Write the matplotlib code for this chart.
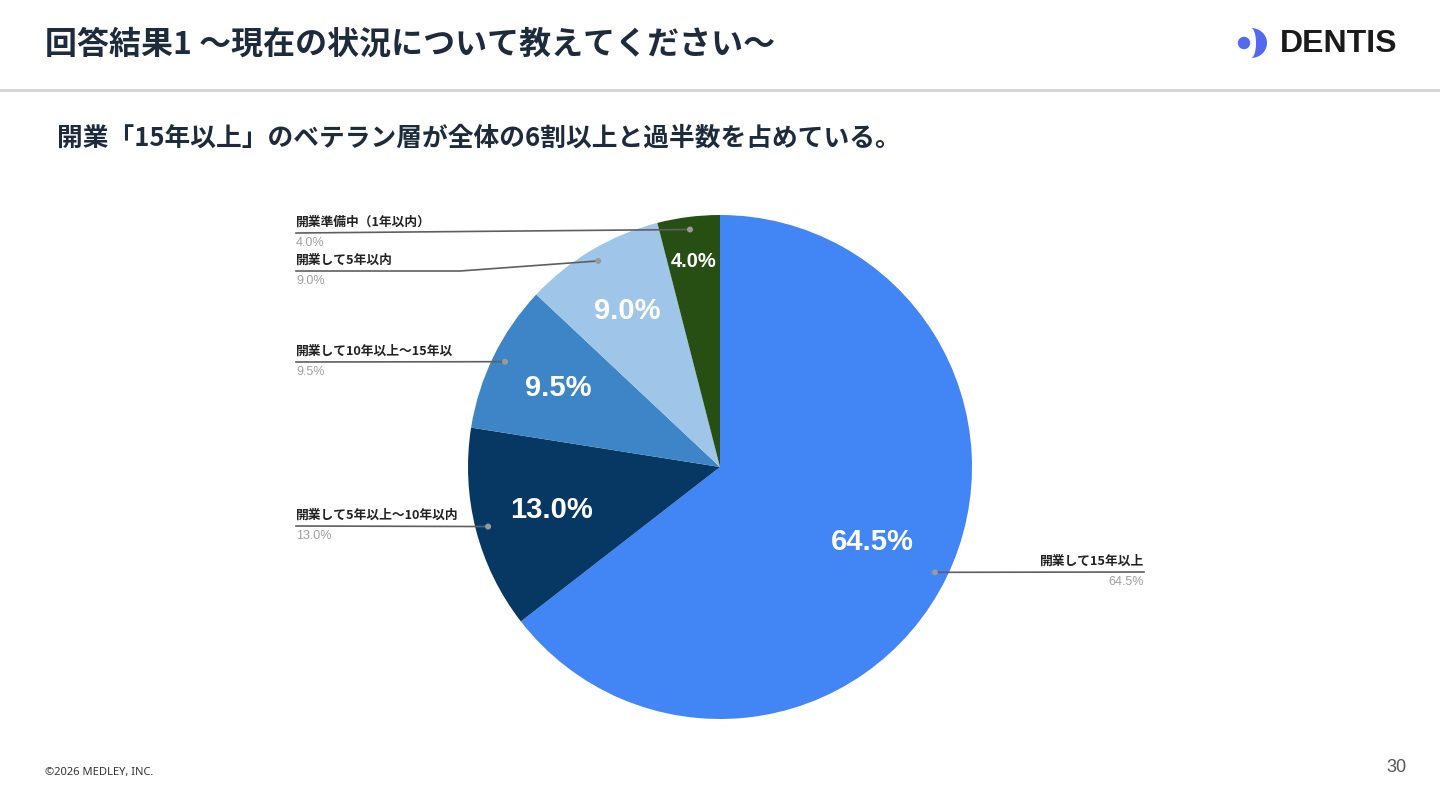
import numpy as np
import matplotlib.pyplot as plt
from matplotlib.patches import Circle, Polygon

plt.rcParams['font.family'] = ['Noto Sans CJK JP', 'DejaVu Sans']

# data (clockwise from 12 o'clock)
categories = ['開業して15年以上', '開業して5年以上〜10年以内', '開業して10年以上〜15年以',
              '開業して5年以内', '開業準備中（1年以内）']
shares = [64.5, 13.0, 9.5, 9.0, 4.0]
colors = ['#4285F4', '#073763', '#3D85C6', '#9FC5E8', '#274E13']

title = '回答結果1 〜現在の状況について教えてください〜'
subtitle = '開業「15年以上」のベテラン層が全体の6割以上と過半数を占めている。'

W, H = 1440, 810
fig = plt.figure(figsize=(14.4, 8.1), dpi=100)
ax = fig.add_axes([0, 0, 1, 1])

def Y(y):
    return H - y

cx, cy, R = 720, Y(467), 252
wedges, _ = ax.pie(shares, colors=colors, startangle=90, counterclock=False,
                   center=(cx, cy), radius=R, wedgeprops=dict(linewidth=0))
ax.set_xlim(0, W)
ax.set_ylim(0, H)
ax.set_aspect('equal')
ax.axis('off')

# in-slice percentages
pct_r = [0.675, 0.69, 0.715, 0.72, 0.82]
pct_fs = [21, 21, 21, 21, 14.5]
mids = []
for w, v, r, fs in zip(wedges, shares, pct_r, pct_fs):
    a = np.deg2rad((w.theta1 + w.theta2) / 2)
    mids.append(a)
    ax.text(cx + r * R * np.cos(a), cy + r * R * np.sin(a), f'{v:.1f}%',
            ha='center', va='center', color='white', fontsize=fs,
            fontweight='bold', family=['Liberation Sans', 'DejaVu Sans'])

# callout labels: (line y, elbow x, side)
label_layout = [(572, None, 'right'), (526, None, 'left'), (362, None, 'left'),
                (271, 460, 'left'), (233, None, 'left')]
line_c = '#5f5f5f'
for i, (ly, ex, side) in enumerate(label_layout):
    a = mids[i]
    dx, dy = cx + 0.95 * R * np.cos(a), cy + 0.95 * R * np.sin(a)
    if side == 'left':
        xs = [296] + ([ex] if ex else []) + [dx]
        ys = [Y(ly)] + ([Y(ly)] if ex else []) + [dy]
        tx, ha = 296, 'left'
    else:
        xs, ys = [dx, 1144], [dy, Y(ly)]
        tx, ha = 1144, 'right'
    ax.plot(xs, ys, color=line_c, lw=1.2, zorder=3)
    ax.add_patch(Circle((dx, dy), 2.3, color='#9a9a9a', zorder=4))
    ax.text(tx, Y(ly) + 4, categories[i], ha=ha, va='bottom', fontsize=9.2,
            fontweight='bold', color='#222222')
    ax.text(tx, Y(ly) - 4, f'{shares[i]:.1f}%', ha=ha, va='top', fontsize=9,
            color='#a0a0a0', family=['Liberation Sans', 'DejaVu Sans'])

# header
ax.text(45, Y(45), title, ha='left', va='center', fontsize=23,
        fontweight='bold', color='#1e2b3c')
ax.plot([0, W], [Y(90), Y(90)], color='#d4d4d4', lw=2)
ax.text(57, Y(138), subtitle, ha='left', va='center', fontsize=18.5,
        fontweight='bold', color='#1e2b3c')

# logo
logo_c = '#5468f0'
ax.add_patch(Circle((1244, Y(43)), 5.5, color=logo_c))
t = np.linspace(-np.pi / 2, np.pi / 2, 60)
outer = np.column_stack([1251 + 16 * np.cos(t), Y(43) + 15 * np.sin(t)])
inner = np.column_stack([1251 + 5 * np.cos(t[::-1]), Y(43) + 15 * np.sin(t[::-1])])
ax.add_patch(Polygon(np.vstack([outer, inner]), closed=True, color=logo_c, lw=0))
ax.text(1280, Y(44), 'DENTIS', ha='left', va='center', fontsize=23,
        fontweight='bold', color='#1a1a1a', family=['Liberation Sans', 'DejaVu Sans'])

# footer
ax.text(45, Y(772), '©2026 MEDLEY, INC.', ha='left', va='center', fontsize=8,
        color='#333333', family=['Noto Sans', 'DejaVu Sans'])
ax.text(1406, Y(767), '30', ha='right', va='center', fontsize=13,
        color='#555555', family=['Liberation Sans', 'DejaVu Sans'])

fig.savefig('out.png', dpi=100)
